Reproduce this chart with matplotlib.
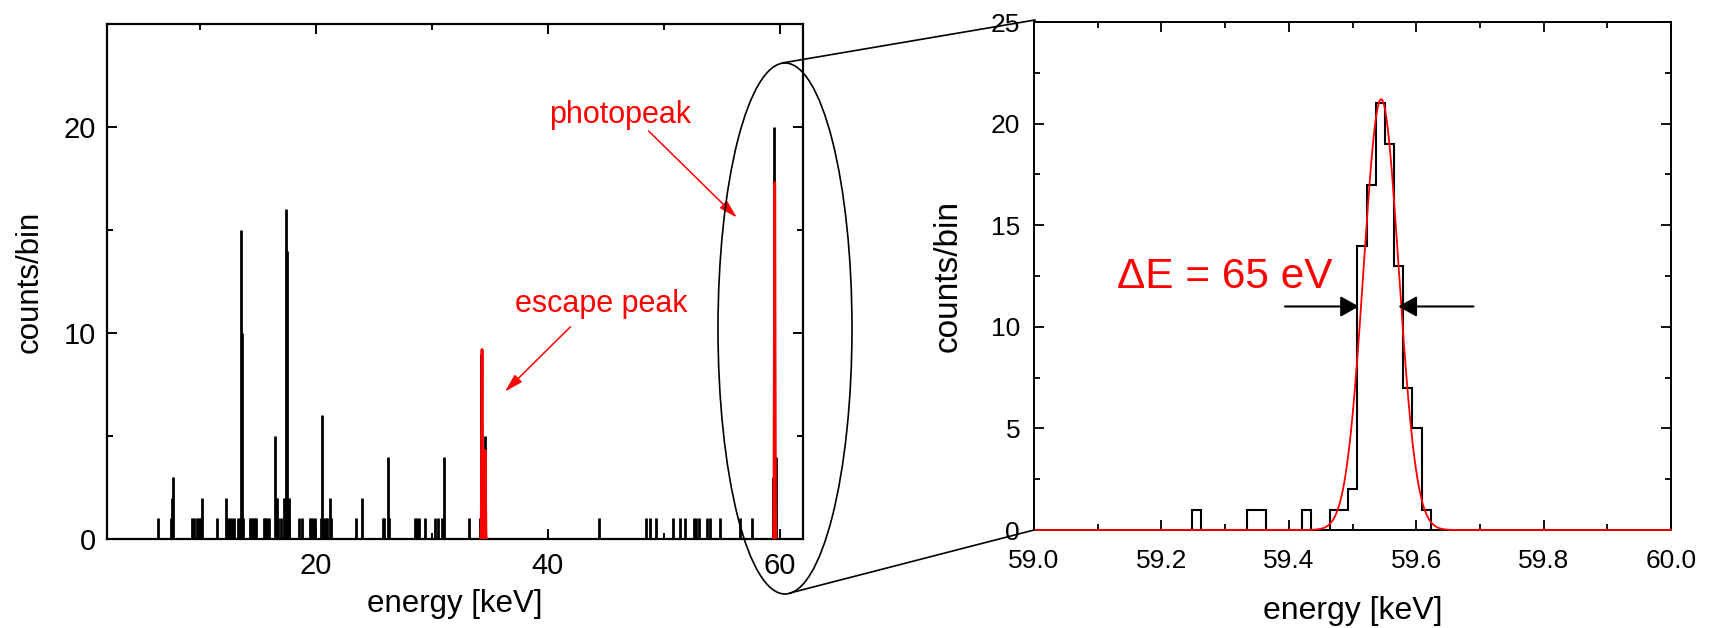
import matplotlib
matplotlib.use("Agg")
import numpy as np
import matplotlib.pyplot as plt
from matplotlib.patches import Ellipse
from matplotlib.lines import Line2D

plt.rcParams['font.family'] = ['Liberation Sans', 'DejaVu Sans']

# ---------------- data: full spectrum (left panel) ----------------
spec_energy = [6.36, 7.55, 7.62, 7.70, 9.33, 9.52, 9.72, 9.92, 10.06, 10.20, 11.50,
               12.22, 12.42, 12.60, 12.80, 12.97, 13.29, 13.50, 13.58, 13.65, 13.72,
               14.30, 14.45, 14.60, 14.75, 14.87, 15.50, 15.65, 15.80, 16.00,
               16.46, 16.55, 16.68, 16.78, 16.97, 17.25, 17.35, 17.42, 17.48, 17.55,
               17.65, 17.72, 18.55, 18.83, 19.50, 19.62, 19.75, 19.90,
               20.45, 20.57, 20.70, 20.85, 21.00, 21.20, 21.30, 23.47, 23.98,
               25.76, 25.90, 26.20, 26.28, 28.57, 28.73, 28.93, 29.45, 30.30, 30.50,
               30.90, 31.03, 33.17, 34.12, 34.28, 34.45, 34.58, 44.38,
               48.46, 48.85, 49.33, 50.83, 51.43, 51.82, 52.57, 52.77, 53.00,
               53.76, 54.00, 54.87, 56.57, 57.64, 59.40, 59.50, 59.65]
spec_counts = [1, 1, 2, 3, 1, 1, 1, 1, 1, 2, 1,
               2, 1, 1, 1, 1, 1, 1, 15, 10, 1,
               1, 1, 1, 1, 1, 1, 1, 1, 1,
               5, 2, 2, 1, 1, 2, 2, 16, 14, 2,
               2, 1, 1, 1, 1, 1, 1, 1,
               1, 6, 1, 1, 1, 2, 1, 1, 2,
               1, 1, 4, 1, 1, 1, 1, 1, 1, 1,
               1, 4, 1, 1, 9, 1, 5, 1,
               1, 1, 1, 1, 1, 1, 1, 1, 1,
               1, 1, 1, 1, 1, 3, 20, 4]

# Gaussian fits drawn in the left panel (centre keV, amplitude, sigma keV)
fit_left_centers = [34.33, 34.60, 59.56]
fit_left_amps = [9.2, 4.3, 17.3]
fit_left_sigmas = [0.03, 0.03, 0.03]

# ---------------- data: zoomed photopeak (right panel) ----------------
zoom_first_edge = 59.2484
zoom_bin_width = 0.0144
zoom_counts = [1, 0, 0, 0, 0, 0, 1, 1, 0, 0, 0, 0, 1, 0, 0,
               1, 1, 2, 14, 17, 21, 19, 13, 7, 5, 1]
fit_center = 59.545
fit_amp = 21.2
fit_fwhm = 0.065   # keV  (Delta E = 65 eV)

# ---------------- figure ----------------
W, H = 1709, 628
fig = plt.figure(figsize=(W / 100, H / 100), dpi=100)
ax1 = fig.add_axes([107 / W, 1 - 539 / H, 696 / W, 515 / H])
ax2 = fig.add_axes([1034 / W, 1 - 530 / H, 637 / W, 508 / H])

# left panel
ax1.vlines(spec_energy, 0, spec_counts, colors='black', lw=2.0, zorder=2)
xf = np.linspace(2, 62, 60001)
yf = np.zeros_like(xf)
for c, a, s in zip(fit_left_centers, fit_left_amps, fit_left_sigmas):
    yf += a * np.exp(-0.5 * ((xf - c) / s) ** 2)
yf = np.where(yf > 0.02, yf, np.nan)
ax1.plot(xf, yf, color='red', lw=2.0, zorder=3)

ax1.set_xlim(2, 62)
ax1.set_ylim(0, 25)
ax1.set_xticks([20, 40, 60])
ax1.set_xticks([10, 30, 50], minor=True)
ax1.set_yticks([0, 10, 20])
ax1.set_yticks([5, 15, 25], minor=True)
ax1.tick_params(which='both', direction='in', top=True, right=True, width=1.4,
                labelsize=21)
ax1.tick_params(which='major', length=7.5)
ax1.tick_params(which='minor', length=4.5)
ax1.tick_params(axis='x', pad=9)
ax1.tick_params(axis='y', pad=8)
for sp in ax1.spines.values():
    sp.set_linewidth(1.6)
ax1.set_xlabel('energy [keV]', fontsize=22.5)
ax1.set_ylabel('counts/bin', fontsize=22.5)
ax1.xaxis.set_label_coords(0.5, -0.097)
ax1.yaxis.set_label_coords(-0.089, 0.5)

ax1.text(40.15, 20.6, 'photopeak', color='red', fontsize=22, ha='left', va='center')
ax1.text(37.2, 11.4, 'escape peak', color='red', fontsize=22, ha='left', va='center')
red_arrow = dict(arrowstyle='-|>,head_length=0.8,head_width=0.22', color='red',
                 lw=1.1, mutation_scale=14, shrinkA=0, shrinkB=0)
ax1.annotate('', xy=(56.3, 15.6), xytext=(48.7, 19.8), arrowprops=red_arrow)
ax1.annotate('', xy=(36.3, 7.15), xytext=(41.95, 10.3), arrowprops=red_arrow)

# right panel
edges = zoom_first_edge + zoom_bin_width * np.arange(len(zoom_counts) + 1)
ax2.stairs(zoom_counts, edges, color='black', lw=1.5, baseline=0, zorder=2)
sig = fit_fwhm / 2.3548
xg = np.linspace(59.0, 60.0, 4001)
ax2.plot(xg, fit_amp * np.exp(-0.5 * ((xg - fit_center) / sig) ** 2),
         color='red', lw=1.3, zorder=3, clip_on=False)

ax2.set_xlim(59.0, 60.0)
ax2.set_ylim(0, 25)
ax2.set_xticks(np.round(np.arange(59.0, 60.01, 0.2), 1))
ax2.set_xticks(np.round(np.arange(59.1, 60.0, 0.2), 1), minor=True)
ax2.set_xticklabels(['59.0', '59.2', '59.4', '59.6', '59.8', '60.0'])
ax2.set_yticks([0, 5, 10, 15, 20, 25])
ax2.set_yticks([2.5, 7.5, 12.5, 17.5, 22.5], minor=True)
ax2.tick_params(which='both', direction='in', top=True, right=True, width=1.3,
                labelsize=19)
ax2.tick_params(which='major', length=7.2)
ax2.tick_params(which='minor', length=4.3)
ax2.tick_params(axis='x', pad=14)
ax2.tick_params(axis='y', pad=10)
for sp in ax2.spines.values():
    sp.set_linewidth(1.4)
ax2.set_xlabel('energy [keV]', fontsize=23)
ax2.set_ylabel('counts/bin', fontsize=24)
ax2.xaxis.set_label_coords(0.5, -0.130)
ax2.yaxis.set_label_coords(-0.111, 0.5)

ax2.text(59.13, 11.9, '\u0394E = 65 eV', color='red', fontsize=30.5,
         ha='left', va='baseline')
black_arrow = dict(arrowstyle='-|>,head_length=0.8,head_width=0.45', color='black',
                   lw=1.5, mutation_scale=14, shrinkA=0, shrinkB=0)
ax2.annotate('', xy=(59.510, 11), xytext=(59.394, 11), arrowprops=black_arrow)
ax2.annotate('', xy=(59.572, 11), xytext=(59.690, 11), arrowprops=black_arrow)

# zoom ellipse and connecting lines (pixel positions -> inches)
def px(x, y):
    return x / 100.0, (H - y) / 100.0

ell = Ellipse(px(785, 328.5), 1.34, 5.31, fill=False, edgecolor='black', lw=1.2,
              transform=fig.dpi_scale_trans)
fig.add_artist(ell)
for (xa, ya), (xb, yb) in [((782, 63), (1035, 20)), ((790, 593), (1034, 530))]:
    pa, pb = px(xa, ya), px(xb, yb)
    fig.add_artist(Line2D([pa[0], pb[0]], [pa[1], pb[1]], color='black', lw=1.2,
                          transform=fig.dpi_scale_trans))

fig.savefig('out.png', dpi=100)
